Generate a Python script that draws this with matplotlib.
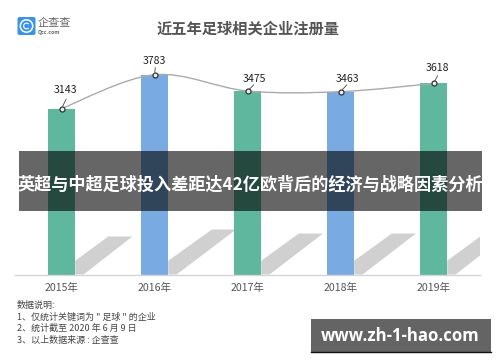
import matplotlib
matplotlib.use("Agg")
import matplotlib.pyplot as plt
from matplotlib.patches import FancyBboxPatch, Polygon, Rectangle, Circle, Wedge
from matplotlib.path import Path
from matplotlib.patches import PathPatch

plt.rcParams['font.family'] = ['Noto Sans CJK SC', 'DejaVu Sans']

years = ["2015年", "2016年", "2017年", "2018年", "2019年"]
counts = [3143, 3783, 3475, 3463, 3618]
bar_colors = ["#5fb89e", "#7aaae2", "#5fb89e", "#7aaae2", "#5fb89e"]
shadow_tops = [720, 852, 776, 776, 720]
title = "近五年足球相关企业注册量"
banner = "英超与中超足球投入差距达42亿欧背后的经济与战略因素分析"
notes = ["数据说明:", "1、仅统计关键词为 \" 足球 \" 的企业", "2、统计截至 2020 年 6 月 9 日", "3、以上数据来源 : 企查查"]
label_offsets = [(3.2, 13), (-0.3, 10), (4.7, 8.6), (4.7, 9.4), (2.7, 10.8)]


def main():
    W, H = 500, 362
    fig = plt.figure(figsize=(W / 100, H / 100), dpi=100)

    # chart axes, baseline at y=274.5px, 0.0528 px per company
    ax = fig.add_axes([15 / W, (H - 274.5) / H, 465 / W, 274.5 / H])
    ax.patch.set_alpha(0)
    ax.set_xlim(-0.5, 4.5)
    ax.set_ylim(0, 274.5 / 0.0528)
    for s in ["top", "left", "right"]:
        ax.spines[s].set_visible(False)
    ax.spines["bottom"].set_color("#d2d6da")
    ax.spines["bottom"].set_linewidth(1)
    ax.set_yticks([])
    ax.set_xticks(range(len(years)))
    ax.set_xticklabels(years, fontsize=7.6, color="#555555", fontweight="medium")
    ax.tick_params(axis="x", length=0, pad=6)

    w = 0.295
    xs = list(range(len(counts)))

    # shadows first so the bars sit on top
    for x, top in zip(xs, shadow_tops):
        r = x + w / 2
        left = 0.355 + (top - 720) * 0.00087
        ax.add_patch(Polygon([(r, 0), (r, 260), (r + left, top),
                              (r + left + 0.26, top), (r + 0.09, 0)],
                             closed=True, fc="#d0d0d0", ec="none", zorder=1))

    ax.bar(xs, counts, width=w, color=bar_colors, zorder=2)

    # smooth line through the points as bezier segments
    verts = [(xs[0], counts[0])]
    codes = [Path.MOVETO]
    n = len(counts)
    for i in range(n - 1):
        p0 = (xs[max(i - 1, 0)], counts[max(i - 1, 0)])
        p1 = (xs[i], counts[i])
        p2 = (xs[i + 1], counts[i + 1])
        p3 = (xs[min(i + 2, n - 1)], counts[min(i + 2, n - 1)])
        verts.append((p1[0] + (p2[0] - p0[0]) / 6, p1[1] + (p2[1] - p0[1]) / 6))
        verts.append((p2[0] - (p3[0] - p1[0]) / 6, p2[1] - (p3[1] - p1[1]) / 6))
        verts.append(p2)
        codes += [Path.CURVE4] * 3
    ax.add_patch(PathPatch(Path(verts, codes), fc="none", ec="#aaaaaa", lw=1, zorder=3))

    ax.plot(xs, counts, "o", ms=3.6, mfc="#e8eeee", mec="#333333", mew=0.9, zorder=4)
    for x, v, off in zip(xs, counts, label_offsets):
        ax.annotate(str(v), (x, v), xytext=off, textcoords="offset points",
                    ha="center", va="center", fontsize=7.6, color="#222222",
                    fontweight="medium", zorder=5)
        ax.annotate("", (x, v), xytext=(off[0] * 0.8 + 0.8, off[1] * 0.52),
                    textcoords="offset points",
                    arrowprops=dict(arrowstyle="-", color="#444444", lw=0.6,
                                    shrinkA=0, shrinkB=2), zorder=4)

    # everything else in pixel coordinates
    top = fig.add_axes([0, 0, 1, 1], zorder=10)
    top.set_xlim(0, W)
    top.set_ylim(H, 0)
    top.axis("off")
    top.patch.set_alpha(0)

    top.add_patch(FancyBboxPatch((19, 18.5), 15, 15, boxstyle="round,pad=1.5,rounding_size=2",
                                 fc="#3b93e8", ec="none"))
    top.add_patch(Circle((26.5, 26), 6.2, fc="none", ec="#ffffff", lw=1.1))
    top.add_patch(Wedge((26.5, 26), 3.4, 40, 320, width=1.1, fc="#ffffff", ec="none"))
    top.text(37.5, 23, "企查查", fontsize=8, color="#666666", va="center", ha="left")
    top.text(38, 32.5, "Qcc.com", fontsize=3.8, color="#666666", va="center", ha="left",
             fontweight="bold")

    top.text(248.5, 29, title, fontsize=11, fontweight="bold", color="#555555",
             ha="center", va="center")

    for y, line in zip([305.5, 317, 328.5, 340.5], notes):
        top.text(17, y, line, fontsize=6.5, color="#444444", ha="left", va="center")

    top.add_patch(Rectangle((19, 151), 463, 60, fc="#000000", alpha=0.6, ec="none"))
    top.text(250, 185, banner, fontsize=12.35, fontweight="bold", color="#ffffff",
             ha="center", va="center")

    top.add_patch(Rectangle((311, 319), 180, 33, fc="#646464", ec="none"))
    top.plot([311, 491], [352, 352], color="#111111", lw=1)
    top.text(400.5, 336, "www.zh-1-hao.com", fontsize=12.1, fontweight="bold",
             color="#ffffff", ha="center", va="center", family="Open Sans")

    fig.savefig("out.png", dpi=100)


main()
